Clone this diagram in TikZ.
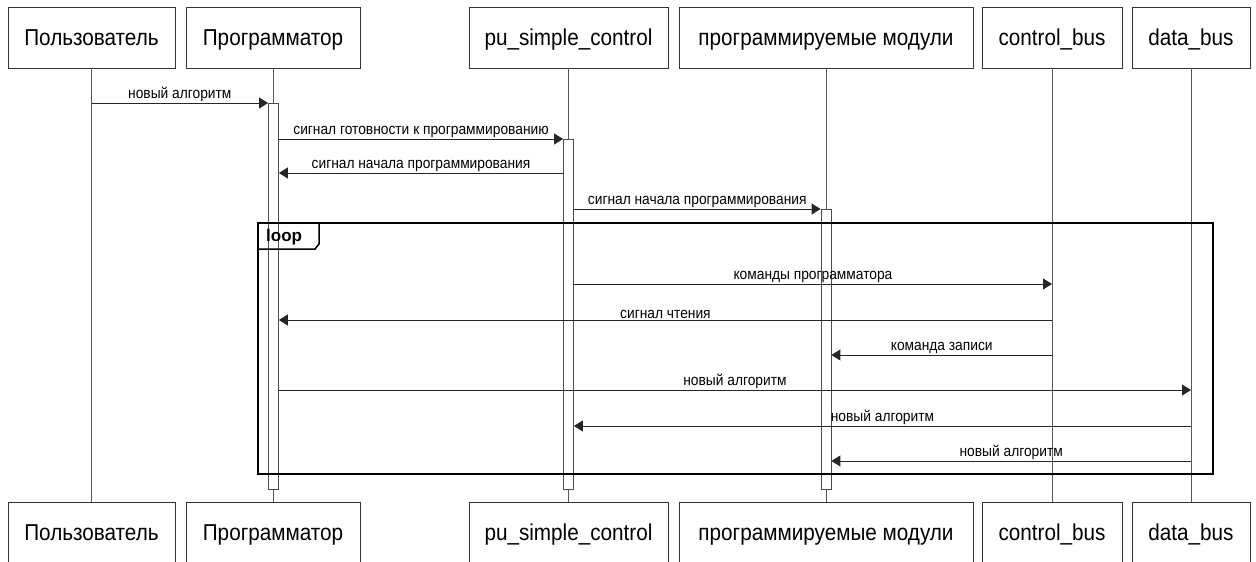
\documentclass[tikz,border=0pt]{standalone}
\usepackage{fontspec}
\setmainfont{Liberation Sans}
\newfontfamily\narrowsans[FakeStretch=0.9]{Liberation Sans}
\usetikzlibrary{arrows.meta,calc}
\tikzset{>={Triangle[length=9pt,width=11pt]},
  actor/.style={draw=black!80,line width=0.9pt,minimum height=61pt,inner sep=0pt,
    text height=16.5pt,text depth=0pt,font=\narrowsans\fontsize{23}{26}\selectfont},
  lifeline/.style={draw=black!65,line width=0.9pt},
  actbar/.style={draw=black!70,fill=white,line width=0.8pt,minimum width=10pt,inner sep=0pt},
  msg/.style={->,line width=0.9pt,draw=black!85},
  lbl/.style={font=\narrowsans\fontsize{15.3}{17}\selectfont,above=0pt,inner sep=1pt},
  frame/.style={draw=black,line width=2pt}}

\begin{document}
\begin{tikzpicture}[x=1pt,y=-1pt]
    \useasboundingbox (0,0) rectangle (1256,562);
    % participants, top and bottom
    \foreach \n/\x/\w/\t in {usr/91.5/167/Пользователь,prog/273/174/Программатор,
        pu/568.5/199/pu\_simple\_control,mod/826/294/программируемые модули,
        cbus/1052/140/control\_bus,dbus/1191/118/data\_bus}{
      \node[actor,minimum width=\w pt] (\n) at (\x,37.5) {\t};
      \node[actor,minimum width=\w pt] (\n-b) at (\x,532.5) {\t};
      \draw[lifeline] (\n) -- (\n-b);
    }
    % activation bars
    \node[actbar,minimum height=386pt,anchor=north] (progbar) at (273.5,103) {};
    \node[actbar,minimum height=350pt,anchor=north] (pubar) at (568.5,139) {};
    \node[actbar,minimum height=280pt,anchor=north] (modbar) at (826,209) {};
    % rows
    \coordinate (r0) at (0,173);
    \coordinate (r1) at (0,284);
    \coordinate (r2) at (0,320);
    \coordinate (r3) at (0,355);
    \coordinate (r4) at (0,390);
    \coordinate (r5) at (0,426);
    \coordinate (r6) at (0,461);
    % messages
    \draw[msg] (usr |- progbar.north) -- node[lbl] {новый алгоритм} (progbar.north west);
    \draw[msg] (progbar.east |- pubar.north) -- node[lbl] {сигнал готовности к программированию} (pubar.north west);
    \draw[msg] (pubar.west |- r0) -- node[lbl] {сигнал начала программирования} (progbar.east |- r0);
    \draw[msg] (pubar.east |- modbar.north) -- node[lbl] {сигнал начала программирования} (modbar.north west);
    \draw[msg] (pubar.east |- r1) -- node[lbl] {команды программатора} (cbus |- r1);
    \draw[msg] (cbus |- r2) -- node[lbl] {сигнал чтения} (progbar.east |- r2);
    \draw[msg] (cbus |- r3) -- node[lbl] {команда записи} (modbar.east |- r3);
    \draw[msg] (progbar.east |- r4) -- node[lbl] {новый алгоритм} (dbus |- r4);
    \draw[msg] (dbus |- r5) -- node[lbl] {новый алгоритм} (pubar.east |- r5);
    \draw[msg] (dbus |- r6) -- node[lbl] {новый алгоритм} (modbar.east |- r6);
    % loop frame
    \coordinate (loopnw) at (258,223);
    \coordinate (loopse) at (1213,474);
    \draw[frame] (loopnw) rectangle (loopse);
    \node[anchor=west,inner sep=0pt,font=\bfseries\fontsize{17}{19}\selectfont] (looptag) at ($(loopnw)+(8,14.5)$) {loop};
    \draw[line width=1.5pt] ($(loopnw)+(0,26)$) -- ($(loopnw)+(57,26)$) -- ($(loopnw)+(61,21)$) -- ($(loopnw)+(61,0)$);
  \end{tikzpicture}
\end{document}
